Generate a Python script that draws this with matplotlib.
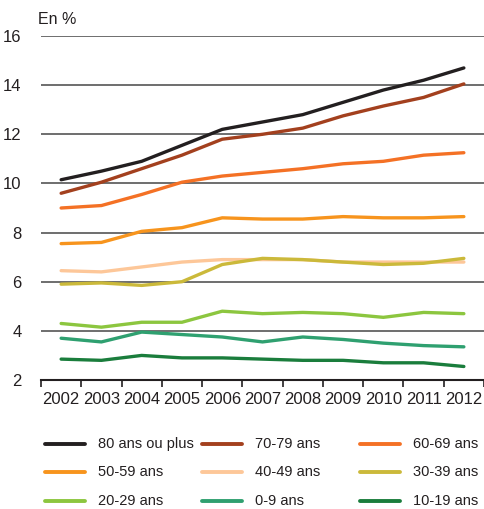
import matplotlib
matplotlib.use("Agg")
import matplotlib.pyplot as plt
from matplotlib.lines import Line2D
import numpy as np

plt.rcParams['font.family'] = ['Liberation Sans', 'DejaVu Sans']

years = ["2002", "2003", "2004", "2005", "2006", "2007", "2008", "2009", "2010", "2011", "2012"]
labels = ["80 ans ou plus", "70-79 ans", "60-69 ans", "50-59 ans", "40-49 ans",
          "30-39 ans", "20-29 ans", "0-9 ans", "10-19 ans"]
s80 = [10.15, 10.5, 10.9, 11.55, 12.2, 12.5, 12.8, 13.3, 13.8, 14.2, 14.7]
s70 = [9.6, 10.05, 10.6, 11.15, 11.8, 12.0, 12.25, 12.75, 13.15, 13.5, 14.05]
s60 = [9.0, 9.1, 9.55, 10.05, 10.3, 10.45, 10.6, 10.8, 10.9, 11.15, 11.25]
s50 = [7.55, 7.6, 8.05, 8.2, 8.6, 8.55, 8.55, 8.65, 8.6, 8.6, 8.65]
s40 = [6.45, 6.4, 6.6, 6.8, 6.9, 6.9, 6.9, 6.8, 6.8, 6.8, 6.8]
s30 = [5.9, 5.95, 5.85, 6.0, 6.7, 6.95, 6.9, 6.8, 6.7, 6.75, 6.95]
s20 = [4.3, 4.15, 4.35, 4.35, 4.8, 4.7, 4.75, 4.7, 4.55, 4.75, 4.7]
s0 = [3.7, 3.55, 3.95, 3.85, 3.75, 3.55, 3.75, 3.65, 3.5, 3.4, 3.35]
s10 = [2.85, 2.8, 3.0, 2.9, 2.9, 2.85, 2.8, 2.8, 2.7, 2.7, 2.55]
series = [s80, s70, s60, s50, s40, s30, s20, s0, s10]
colors = ["#231f20", "#a3401e", "#f47125", "#f7941d", "#fdc799",
          "#cbb93a", "#8cc63f", "#2fa070", "#1a7d3c"]

W, H = 485, 509
fig = plt.figure(figsize=(W/100, H/100), dpi=100)
ax = fig.add_axes([41/W, 1-380/H, 443/W, 344/H])

x = np.arange(len(years))
draw_order = [4, 5, 3, 2, 1, 0, 6, 7, 8]
for i in draw_order:
    ax.plot(x, series[i], color=colors[i], lw=2.4, solid_capstyle='round',
            solid_joinstyle='round', label=labels[i])

ax.set_xlim(-0.5, len(years) - 0.5)
ax.set_ylim(2, 16)
ax.set_yticks(range(2, 17, 2))
ax.set_yticklabels([str(v) for v in range(2, 17, 2)])
ax.set_xticks(x)
ax.set_xticklabels(years)
ax.set_xticks(np.arange(-0.5, len(years), 1), minor=True)
ax.tick_params(axis='x', which='major', length=0, labelsize=12, colors='#231f20', pad=9)
ax.tick_params(axis='x', which='minor', length=5, width=1.2, direction='out', color='#231f20')
ax.tick_params(axis='y', length=0, labelsize=12, colors='#231f20', pad=14)
for sp in ['top', 'right', 'left']:
    ax.spines[sp].set_visible(False)
ax.spines['bottom'].set_color('#231f20')
ax.spines['bottom'].set_linewidth(1.5)
ax.grid(axis='y', color='#555555', lw=1.2)
ax.set_axisbelow(True)

fig.text(38/W, 1-20/H, "En %", fontsize=11.5, color='#231f20', va='center')

# manual legend, row-major as in the reference
col_x = [45, 202, 360]
row_y = [444, 472, 501]
for k in range(len(labels)):
    r, c = divmod(k, 3)
    x0 = col_x[c]
    yy = 1 - row_y[r]/H
    fig.add_artist(Line2D([x0/W, (x0+40)/W], [yy, yy], transform=fig.transFigure,
                          color=colors[k], lw=2.8, solid_capstyle='round'))
    fig.text((x0+53)/W, yy, labels[k], fontsize=10.5, color='#231f20', va='center', ha='left')

fig.savefig("out.png", dpi=100)
